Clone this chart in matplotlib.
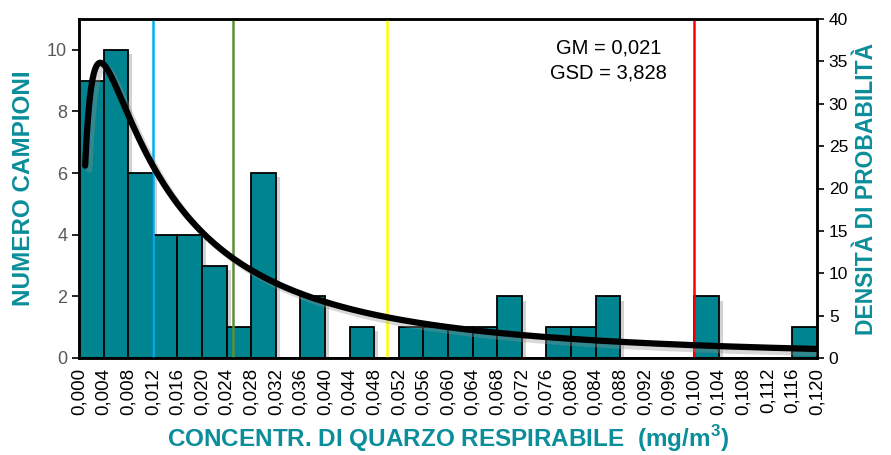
import numpy as np
import matplotlib
matplotlib.use("Agg")
import matplotlib.pyplot as plt
import matplotlib.patheffects as pe
from matplotlib.ticker import FixedLocator

plt.rcParams['font.family'] = ['Liberation Sans', 'DejaVu Sans']

# Data
bin_width = 0.004
bin_starts = [i * 0.004 for i in range(30)]
counts = [9, 10, 6, 4, 4, 3, 1, 6, 0, 2, 0, 1, 0, 1, 1, 1, 1, 2, 0, 1,
          1, 2, 0, 0, 0, 2, 0, 0, 0, 1]
tick_values = [i * 0.004 for i in range(31)]
tick_labels = [f"{v:.3f}".replace('.', ',') for v in tick_values]
gm = 0.021
gsd = 3.828
limit_values = [0.012, 0.025, 0.050, 0.100]
limit_colors = ['#00B0F0', '#5B8F3A', '#FFFF00', '#FF0000']

teal = '#00848F'
label_teal = '#0A8E9A'

fig = plt.figure(figsize=(8.91, 4.55), dpi=100)
ax = fig.add_axes([79/891, 97/455, 738/891, 339/455])

shadow = [pe.SimplePatchShadow(offset=(3, -3), shadow_rgbFace='#909090', alpha=0.4), pe.Normal()]
bars = ax.bar(bin_starts, counts, width=bin_width, align='edge', color=teal,
              edgecolor='black', linewidth=1.3, zorder=2)
for b in bars:
    b.set_path_effects(shadow)

for v, c in zip(limit_values, limit_colors):
    ax.axvline(v, color=c, linewidth=1.8, zorder=3)

ax.set_xlim(0, 0.12)
ax.set_ylim(0, 11)
ax.set_yticks([0, 2, 4, 6, 8, 10])
ax.xaxis.set_major_locator(FixedLocator(tick_values))
ax.set_xticklabels(tick_labels, rotation=90, fontsize=13.5)
ax.tick_params(axis='x', length=0, pad=7)
ax.tick_params(axis='y', labelsize=13, labelcolor='#595959', length=5, width=1.2, direction='out')
for s in ax.spines.values():
    s.set_linewidth(1.8)
ax.set_ylabel('NUMERO CAMPIONI', fontsize=17.5, fontweight='bold', color=label_teal, labelpad=9)
ax.set_xlabel('CONCENTR. DI QUARZO RESPIRABILE  (mg/m$^\\mathregular{3}$)', fontsize=17.5,
              fontweight='bold', color=label_teal, labelpad=6)

ax2 = ax.twinx()
x = np.linspace(0.001, 0.12, 500)
mu = np.log(gm)
sigma = np.log(gsd)
pdf = 1.0 / (x * sigma * np.sqrt(2 * np.pi)) * np.exp(-(np.log(x) - mu) ** 2 / (2 * sigma ** 2))
ax2.plot(x, pdf, color='black', linewidth=4.5, solid_capstyle='round', zorder=4,
         path_effects=[pe.SimpleLineShadow(offset=(3, -3), shadow_color='#909090', alpha=0.35), pe.Normal()])
ax2.set_ylim(0, 40)
ax2.set_yticks(range(0, 41, 5))
ax2.tick_params(axis='y', labelsize=12.5, labelcolor='black', length=5, width=1.2)
for s in ax2.spines.values():
    s.set_linewidth(1.8)
ax2.set_ylabel('DENSITÀ DI PROBABILITÀ', fontsize=16.5, fontweight='bold', color=label_teal,
               labelpad=5)

ax2.text(0.718, 0.915, f"GM = {gm:.3f}".replace('.', ','), transform=ax.transAxes,
         ha='center', va='center', fontsize=14.5)
ax2.text(0.718, 0.84, f"GSD = {gsd:.3f}".replace('.', ','), transform=ax.transAxes,
         ha='center', va='center', fontsize=14.5)

fig.savefig('out.png', dpi=100)
